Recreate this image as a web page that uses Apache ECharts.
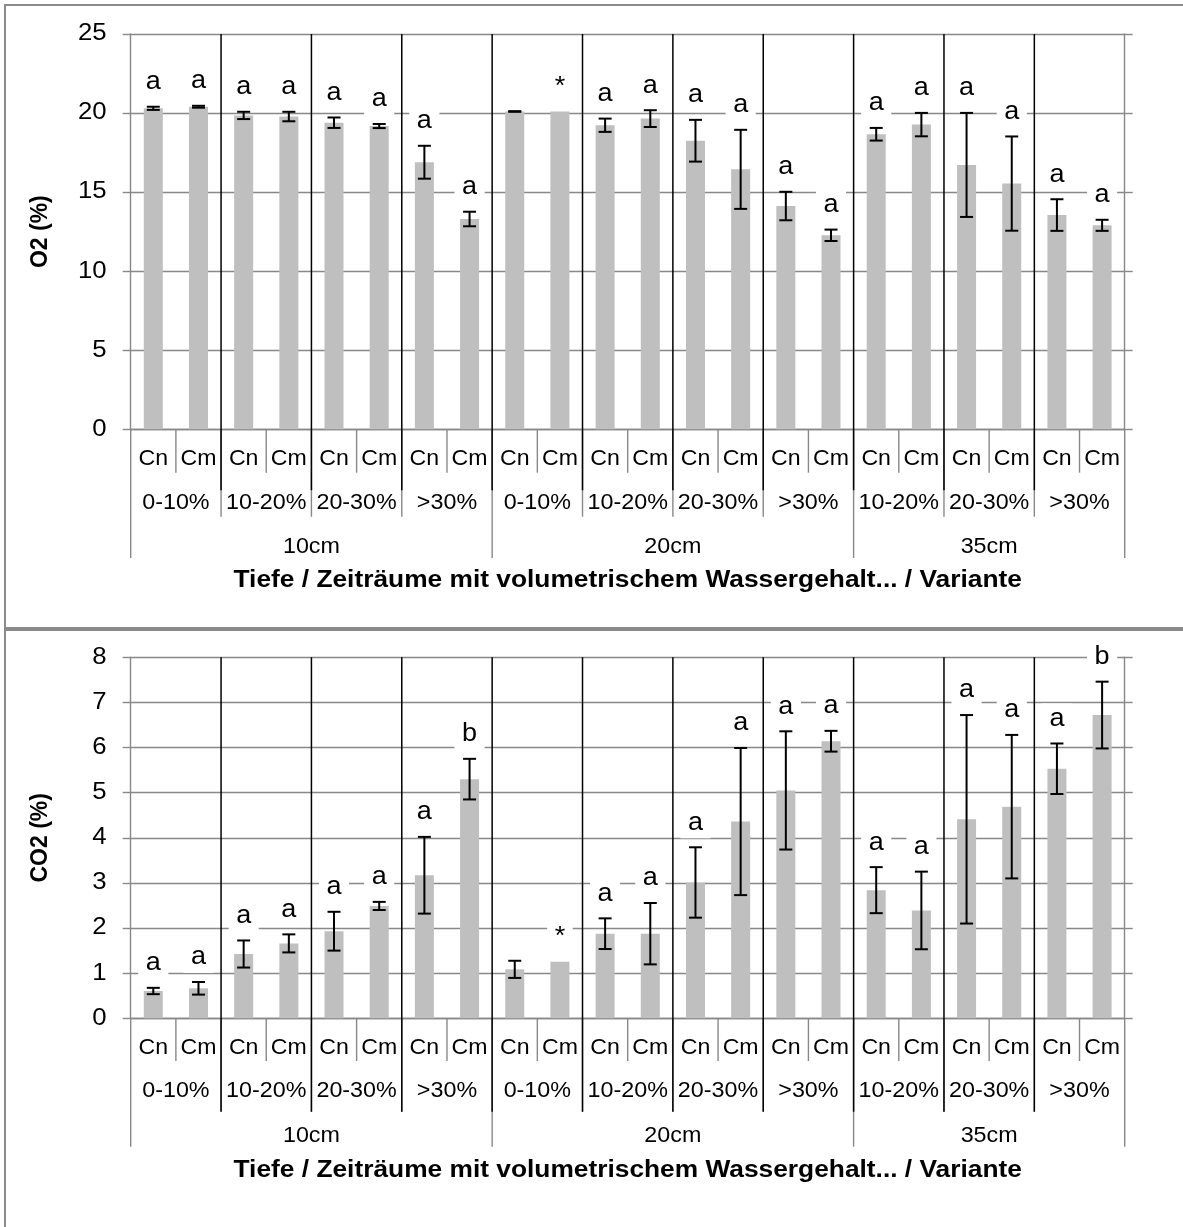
<!DOCTYPE html>
<html><head><meta charset="utf-8">
<script src="https://cdn.jsdelivr.net/npm/echarts@6/dist/echarts.min.js"></script>
<style>html,body{margin:0;padding:0;background:#fff}#c{width:1183px;height:1227px}</style>
</head><body><div id="c"></div><script>
// ---------- data ----------
const depths = ['10cm', '20cm', '35cm'];
const periods = [['0-10%', '10-20%', '20-30%', '>30%'], ['0-10%', '10-20%', '20-30%', '>30%'], ['10-20%', '20-30%', '>30%']];
const variants = ['Cn', 'Cm'];

const o2Mean = [20.3, 20.4, 19.85, 19.78, 19.39, 19.18, 16.89, 13.3, 20.1, 20.1, 19.23, 19.65, 18.25, 16.44, 14.12, 12.27, 18.66, 19.27, 16.72, 15.54, 13.55, 12.9];
const o2Err  = [0.1, 0.06, 0.23, 0.3, 0.33, 0.13, 1.04, 0.46, 0.02, 0, 0.42, 0.53, 1.32, 2.5, 0.9, 0.36, 0.4, 0.74, 3.29, 2.98, 1.0, 0.35];
const o2Sig  = ['a','a','a','a','a','a','a','a','','*','a','a','a','a','a','a','a','a','a','a','a','a'];

const co2Mean = [0.605, 0.665, 1.425, 1.66, 1.93, 2.49, 3.17, 5.3, 1.085, 1.255, 1.875, 1.875, 3.01, 4.36, 5.05, 6.14, 2.84, 2.39, 4.41, 4.69, 5.53, 6.72];
const co2Err  = [0.07, 0.14, 0.3, 0.2, 0.43, 0.09, 0.85, 0.45, 0.19, 0, 0.34, 0.68, 0.78, 1.63, 1.31, 0.23, 0.51, 0.86, 2.31, 1.59, 0.56, 0.74];
const co2Sig  = ['a','a','a','a','a','a','a','b','','*','a','a','a','a','a','a','a','a','a','a','a','b'];

const o2TickVals = [0, 5, 10, 15, 20, 25];
const co2TickVals = [0, 1, 2, 3, 4, 5, 6, 7, 8];

const o2Title = 'O2 (%)';
const co2Title = 'CO2 (%)';
const xTitle = 'Tiefe / Zeiträume mit volumetrischem Wassergehalt... / Variante';

// ---------- build category structure ----------
const cats = [];
const lvl2 = []; // [start, end, label]
const lvl3 = [];
depths.forEach((d, di) => {
  const s3 = cats.length;
  periods[di].forEach(p => {
    const s2 = cats.length;
    variants.forEach(v => cats.push(v));
    lvl2.push([s2, cats.length - 1, p]);
  });
  lvl3.push([s3, cats.length - 1, d]);
});
const lvl3Bounds = new Set([0]);
lvl3.forEach(g => lvl3Bounds.add(g[1] + 1));

const FONT = "'Liberation Sans', Arial, sans-serif";
const GRAY = '#888888';

function txt(s, x, y, size, sx, opts) {
  opts = opts || {};
  return {
    type: 'text', x: x, y: y, scaleX: sx, z2: opts.z2 || 0,
    style: Object.assign({
      text: s, x: 0, y: 0, align: opts.align || 'center', verticalAlign: 'middle',
      fontSize: size, fontFamily: FONT, fontWeight: opts.bold ? 'bold' : 'normal', fill: '#000'
    }, opts.extra || {})
  };
}

function errRender(sig) {
  return function (params, api) {
    const i = api.value(0), m = api.value(1), e = api.value(2);
    const top = api.coord([i, m + e]), bot = api.coord([i, m - e]);
    const cw = 6.5;
    const ch = [];
    if (e > 0) {
      const st = {stroke: '#000', lineWidth: 2};
      ch.push({type: 'line', shape: {x1: top[0], y1: top[1], x2: bot[0], y2: bot[1]}, style: st});
      ch.push({type: 'line', shape: {x1: top[0] - cw, y1: top[1], x2: top[0] + cw, y2: top[1]}, style: st});
      ch.push({type: 'line', shape: {x1: bot[0] - cw, y1: bot[1], x2: bot[0] + cw, y2: bot[1]}, style: st});
    }
    const s = sig[params.dataIndex];
    if (s) {
      ch.push(txt(s, top[0], top[1] - 24.5, 25, 1.08, {z2: 10, extra: {backgroundColor: '#fff', padding: [3, 7]}}));
    }
    return {type: 'group', children: ch};
  };
}

function yTickRender(params, api) {
  const v = api.value(1);
  const p = api.coord([0, v]);
  const bw = api.size([1, 0])[0];
  const axisX = p[0] - bw / 2;
  return txt(String(v), axisX - 24, p[1], 23, 1.12, {align: 'right'});
}

function decorRender(ymax, cfg) {
  return function (params, api) {
    const bw = api.size([1, 0])[0];
    const c0 = api.coord([0, 0]);
    const axisY = c0[1];
    const plotTop = api.coord([0, ymax])[1];
    const xb = b => c0[0] - bw / 2 + b * bw;
    const ch = [];
    const gst = {stroke: GRAY, lineWidth: 1.4};
    for (let b = 0; b <= cats.length; b++) {
      let len;
      if (lvl3Bounds.has(b)) len = cfg.l3;
      else if (b % 2 === 0) len = cfg.l2;
      else len = cfg.l1;
      const x = xb(b);
      ch.push({type: 'line', shape: {x1: x, y1: axisY, x2: x, y2: axisY + len}, style: gst});
      if (b % 2 === 0 && b > 0 && b < cats.length) {
        ch.push({type: 'line', shape: {x1: x, y1: plotTop, x2: x, y2: axisY + cfg.black}, style: {stroke: '#000', lineWidth: 1.5}});
      }
    }
    cats.forEach((c, i) => {
      ch.push(txt(c, xb(i) + bw / 2, axisY + cfg.t1, 22, 1.05));
    });
    lvl2.forEach(g => {
      ch.push(txt(g[2], (xb(g[0]) + xb(g[1] + 1)) / 2, axisY + cfg.t2, 22, 1.06));
    });
    lvl3.forEach(g => {
      ch.push(txt(g[2], (xb(g[0]) + xb(g[1] + 1)) / 2, axisY + cfg.t3, 22, 1.06));
    });
    ch.push(txt(xTitle, (xb(0) + xb(cats.length)) / 2, axisY + cfg.tt, 23.5, 1.12, {bold: true}));
    return {type: 'group', children: ch};
  };
}

function xAxisDef(gi) {
  return {
    type: 'category', gridIndex: gi, data: cats,
    axisLine: {show: true, lineStyle: {color: GRAY, width: 1.4}},
    axisTick: {show: false},
    axisLabel: {show: false},
    splitLine: {show: false}
  };
}
function yAxisDef(gi, ticks, name) {
  return {
    type: 'value', gridIndex: gi, min: ticks[0], max: ticks[ticks.length - 1], interval: ticks[1] - ticks[0],
    name: name, nameLocation: 'middle', nameGap: 79,
    nameTextStyle: {fontSize: 23, fontWeight: 'bold', fontFamily: FONT, color: '#000'},
    axisLine: {show: true, lineStyle: {color: GRAY, width: 1.4}},
    axisTick: {show: true, length: 8, lineStyle: {color: GRAY, width: 1.4}},
    axisLabel: {show: false},
    splitLine: {show: true, lineStyle: {color: GRAY, width: 1.4}}
  };
}
function yRightDef(gi, ticks) {
  return {
    type: 'value', gridIndex: gi, position: 'right', min: ticks[0], max: ticks[ticks.length - 1], interval: ticks[1] - ticks[0],
    axisLine: {show: true, lineStyle: {color: GRAY, width: 1.4}},
    axisTick: {show: true, length: 8, lineStyle: {color: GRAY, width: 1.4}},
    axisLabel: {show: false}, splitLine: {show: false}
  };
}

const chart = echarts.init(document.getElementById('c'), null, {renderer: 'canvas'});
chart.setOption({
  animation: false,
  backgroundColor: '#fff',
  graphic: [
    {type: 'rect', shape: {x: 5, y: 5, width: 1200, height: 623}, style: {fill: 'none', stroke: '#8a8a8a', lineWidth: 2}, z: -1},
    {type: 'rect', shape: {x: 5, y: 630, width: 1200, height: 620}, style: {fill: 'none', stroke: '#8a8a8a', lineWidth: 2}, z: -1}
  ],
  grid: [
    {left: 130.7, top: 34, width: 994, height: 395.3},
    {left: 130.7, top: 657.3, width: 994, height: 361}
  ],
  xAxis: [xAxisDef(0), xAxisDef(1)],
  yAxis: [yAxisDef(0, o2TickVals, o2Title), yAxisDef(1, co2TickVals, co2Title), yRightDef(0, o2TickVals), yRightDef(1, co2TickVals)],
  series: [
    {type: 'bar', xAxisIndex: 0, yAxisIndex: 0, data: o2Mean, barWidth: 19, itemStyle: {color: '#bfbfbf'}, z: 2},
    {type: 'custom', xAxisIndex: 0, yAxisIndex: 0, data: o2Mean.map((m, i) => [i, m, o2Err[i]]), encode: {x: 0, y: 1},
      renderItem: errRender(o2Sig), z: 3, clip: false},
    {type: 'custom', xAxisIndex: 0, yAxisIndex: 0, data: o2TickVals.map(v => [0, v]), encode: {x: 0, y: 1},
      renderItem: yTickRender, z: 3, clip: false, silent: true},
    {type: 'custom', xAxisIndex: 0, yAxisIndex: 0, data: [[0, 0]], encode: {x: 0, y: 1},
      renderItem: decorRender(o2TickVals[o2TickVals.length - 1], {l1: 43.4, l2: 87.4, l3: 128.7, black: 61, t1: 29.5, t2: 74, t3: 117.5, tt: 151}), z: 4, clip: false, silent: true},
    {type: 'bar', xAxisIndex: 1, yAxisIndex: 1, data: co2Mean, barWidth: 19, itemStyle: {color: '#bfbfbf'}, z: 2},
    {type: 'custom', xAxisIndex: 1, yAxisIndex: 1, data: co2Mean.map((m, i) => [i, m, co2Err[i]]), encode: {x: 0, y: 1},
      renderItem: errRender(co2Sig), z: 3, clip: false},
    {type: 'custom', xAxisIndex: 1, yAxisIndex: 1, data: co2TickVals.map(v => [0, v]), encode: {x: 0, y: 1},
      renderItem: yTickRender, z: 3, clip: false, silent: true},
    {type: 'custom', xAxisIndex: 1, yAxisIndex: 1, data: [[0, 0]], encode: {x: 0, y: 1},
      renderItem: decorRender(co2TickVals[co2TickVals.length - 1], {l1: 42.7, l2: 93.4, l3: 128.4, black: 93.4, t1: 29.5, t2: 73, t3: 117.5, tt: 152}), z: 4, clip: false, silent: true}
  ]
});
</script></body></html>
